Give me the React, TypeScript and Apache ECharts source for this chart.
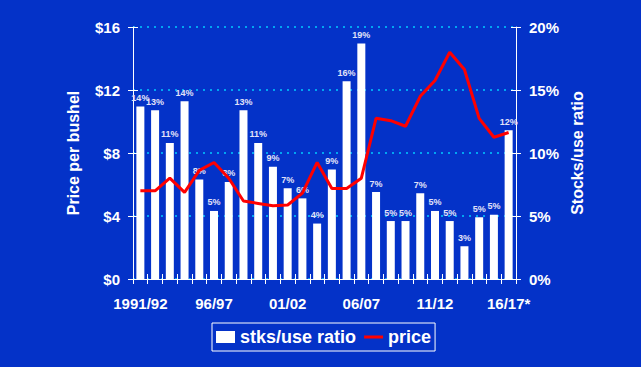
import React, { useEffect, useRef } from "react";
import * as echarts from "echarts";

const categories = [
  "1991/92", "92/93", "93/94", "94/95", "95/96", "96/97", "97/98", "98/99", "99/00",
  "00/01", "01/02", "02/03", "03/04", "04/05", "05/06", "06/07", "07/08", "08/09",
  "09/10", "10/11", "11/12", "12/13", "13/14", "14/15", "15/16", "16/17*",
];
const stocksUseRatio = [
  13.7, 13.4, 10.8, 14.1, 7.9, 5.4, 7.7, 13.4, 10.8, 8.9, 7.2, 6.4, 4.4, 8.7, 15.7,
  18.7, 6.9, 4.6, 4.6, 6.8, 5.4, 4.6, 2.6, 4.9, 5.1, 11.8,
];
const price = [
  5.6, 5.6, 6.4, 5.5, 6.9, 7.4, 6.4, 4.95, 4.8, 4.65, 4.7, 5.45, 7.4, 5.75, 5.75, 6.4,
  10.2, 10.05, 9.7, 11.6, 12.6, 14.4, 13.3, 10.2, 9.0, 9.3,
];
const priceTicks = { min: 0, max: 16, interval: 4 };
const ratioTicks = { min: 0, max: 20, interval: 5 };

const FONT = "'Liberation Sans', Arial, sans-serif";
const BG = "#0432C8";

export default function App() {
  const ref = useRef<HTMLDivElement>(null);
  useEffect(() => {
    if (!ref.current) return;
    const chart = echarts.init(ref.current, undefined, { renderer: "svg" });
    const tickOut = { show: true, inside: false, length: 5, lineStyle: { color: "#fff", width: 1 } };
    const tickIn = { show: true, inside: true, length: 5, lineStyle: { color: "#fff", width: 1 } };
    const axLabel = { color: "#fff", fontFamily: FONT, fontWeight: "bold" as const, fontSize: 15 };
    const nameStyle = { color: "#fff", fontFamily: FONT, fontWeight: "bold" as const, fontSize: 16 };
    chart.setOption({
      animation: false,
      backgroundColor: BG,
      grid: { left: 133, right: 125, top: 27, bottom: 88 },
      legend: {
        left: 212,
        top: 323,
        padding: [5, 4],
        borderColor: "#fff",
        borderWidth: 1,
        itemWidth: 19,
        itemHeight: 12,
        itemGap: 8,
        textStyle: { color: "#fff", fontFamily: FONT, fontWeight: "bold", fontSize: 18 },
        data: [
          { name: "stks/use ratio", icon: "rect" },
          { name: "price", icon: "path://M0,0L20,0L20,3.2L0,3.2Z", itemStyle: { color: "#FF0000" } },
        ],
      },
      xAxis: [
        {
          type: "category",
          data: categories,
          position: "bottom",
          axisLine: { show: true, lineStyle: { color: "#fff", width: 1 } },
          axisTick: { ...tickOut, alignWithLabel: false, interval: 0 },
          axisLabel: { ...axLabel, interval: 4, margin: 17 },
          splitLine: { show: false },
        },
        {
          type: "category",
          data: categories,
          position: "bottom",
          axisLine: { show: false },
          axisTick: { ...tickIn, alignWithLabel: false, interval: 0 },
          axisLabel: { show: false },
          splitLine: { show: false },
        },
      ],
      yAxis: [
        {
          type: "value",
          position: "left",
          ...priceTicks,
          name: "Price per bushel",
          nameLocation: "middle",
          nameRotate: 90,
          nameGap: 52,
          nameTextStyle: nameStyle,
          axisLine: { show: true, lineStyle: { color: "#fff", width: 1 } },
          axisTick: tickOut,
          axisLabel: { ...axLabel, margin: 13, formatter: (v: number) => "$" + v },
          splitLine: { show: true, lineStyle: { color: "#00CCFF", width: 1.5, type: [2, 5] } },
        },
        {
          type: "value",
          position: "right",
          ...ratioTicks,
          name: "Stocks/use ratio",
          nameLocation: "middle",
          nameRotate: 90,
          nameGap: 50,
          nameTextStyle: nameStyle,
          axisLine: { show: true, lineStyle: { color: "#fff", width: 1 } },
          axisTick: tickOut,
          axisLabel: { ...axLabel, margin: 13, formatter: (v: number) => v + "%" },
          splitLine: { show: false },
        },
        {
          type: "value",
          position: "left",
          ...priceTicks,
          axisLine: { show: false },
          axisTick: tickIn,
          axisLabel: { show: false },
          splitLine: { show: false },
        },
        {
          type: "value",
          position: "right",
          ...ratioTicks,
          axisLine: { show: false },
          axisTick: tickIn,
          axisLabel: { show: false },
          splitLine: { show: false },
        },
      ],
      series: [
        {
          name: "stks/use ratio",
          type: "bar",
          xAxisIndex: 0,
          yAxisIndex: 1,
          data: stocksUseRatio,
          barWidth: 8,
          itemStyle: { color: "#fff" },
          label: {
            show: true,
            position: "top",
            distance: 4,
            color: "#E2E2F8",
            fontFamily: FONT,
            fontWeight: "bold",
            fontSize: 9,
            formatter: (p: any) => Math.round(p.value) + "%",
          },
          z: 2,
        },
        {
          name: "price",
          type: "line",
          xAxisIndex: 0,
          yAxisIndex: 0,
          data: price,
          showSymbol: false,
          symbol: "none",
          lineStyle: { color: "#FF0000", width: 3 },
          itemStyle: { color: "#FF0000" },
          z: 3,
        },
      ],
    });
    return () => chart.dispose();
  }, []);
  return (
    <div
      ref={ref}
      style={{ position: "fixed", left: 0, top: 0, width: 641, height: 367 }}
    />
  );
}
